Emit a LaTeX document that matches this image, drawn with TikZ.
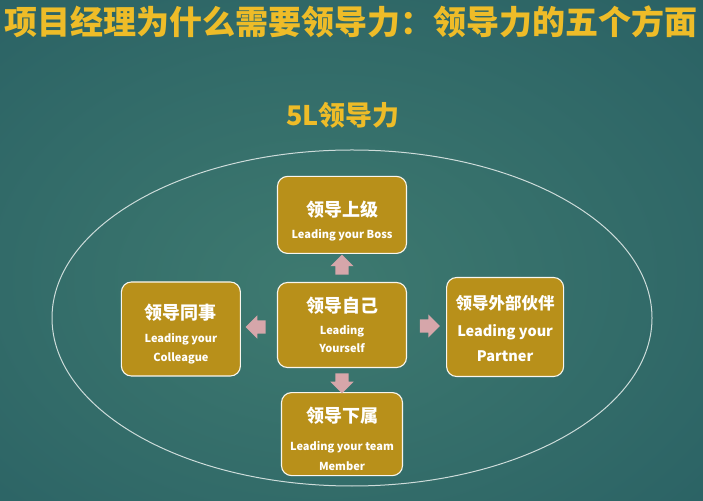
\documentclass[tikz,border=0pt]{standalone}
\usepackage{fontspec}
\setmainfont{Noto Sans CJK SC}
\usepackage{tikz}
\usetikzlibrary{positioning,shapes.arrows,calc}
\definecolor{bgin}  {RGB}{ 62,122,112}
\definecolor{bgmid} {RGB}{ 42, 97,100}
\definecolor{bgout} {RGB}{ 24, 60, 80}
\definecolor{ldgold}{RGB}{184,144, 26}
\definecolor{ldyell}{RGB}{238,188, 40}
\definecolor{ldpink}{RGB}{214,166,170}
\definecolor{ldring}{RGB}{205,220,218}
\pgfdeclareradialshading{bgglow}{\pgfpoint{-3bp}{-4bp}}{%
  color(0bp)=(bgin); color(38bp)=(bgmid); color(74bp)=(bgout)}
\tikzset{
  ldbox/.style={draw=white!92!ldgold,fill=ldgold,rounded corners=10pt,
                line width=1.1pt,text=white,align=center,font=\bfseries,
                minimum width=129pt,minimum height=85pt,inner sep=2pt},
  ldarrow/.style={single arrow,fill=ldpink,draw=none,inner sep=6.5pt,
                  single arrow head extend=5pt,minimum height=17pt},
  ttl/.style={text=ldyell,font=\bfseries\fontsize{33}{33}\selectfont},
}

\begin{document}
\begin{tikzpicture}[x=1pt,y=1pt,node distance=28pt and 36pt]
  % background
  \shade[shading=bgglow] (0,0) rectangle (703,500);
  \useasboundingbox (0,0) rectangle (703,500);

  \node[ttl] (title) at (351,478) {项目经理为什么需要领导力：领导力的五个方面};
  \node[ttl,font=\bfseries\fontsize{27}{27}\selectfont] (sub) at (343,385) {5L领导力};

  \draw[ldring,line width=1pt] (352,182) ellipse [x radius=300, y radius=168];

  \node[ldbox](self) at (342,175)
    {{\fontsize{18}{20}\selectfont 领导自己}\\[10pt]
     {\fontsize{11}{13}\selectfont Leading}\\[6pt]{\fontsize{11}{13}\selectfont Yourself}};
  \node[ldbox,above=28pt of self,minimum height=77pt](boss)
    {\rule{0pt}{28pt}{\fontsize{18}{20}\selectfont 领导上级}\\[10pt]
     {\fontsize{11}{13}\selectfont Leading your Boss}};
  \node[ldbox,left=36pt of self,yshift=-4pt,minimum width=119pt,minimum height=94pt](peer)
    {\rule{0pt}{25pt}{\fontsize{18}{20}\selectfont 领导同事}\\[11pt]
     {\fontsize{11}{13}\selectfont Leading your}\\[7pt]{\fontsize{11}{13}\selectfont Colleague}};
  \node[ldbox,right=39pt of self,yshift=-2pt,minimum width=117pt,minimum height=99pt](partner)
    {\rule{0pt}{18pt}{\fontsize{16.5}{20}\selectfont 领导外部伙伴}\\[12pt]
     {\fontsize{14.5}{16}\selectfont Leading your}\\[10pt]{\fontsize{14.5}{16}\selectfont Partner}};
  \node[ldbox,below=24pt of self,minimum width=121pt,minimum height=83pt](member)
    {\rule{0pt}{25pt}{\fontsize{18}{20}\selectfont 领导下属}\\[16pt]
     {\fontsize{11}{13}\selectfont Leading your team}\\[8pt]{\fontsize{11}{13}\selectfont Member}};

  \node[ldarrow,rotate=90]  (aup)    at ($(self.north)!0.5!(boss.south)$) {};
  \node[ldarrow,rotate=-90] (adown)  at ($(self.south)!0.5!(member.north)$) {};
  \node[ldarrow,rotate=180] (aleft)  at ($(self.west)!0.5!(peer.east)$) {};
  \node[ldarrow]            (aright) at ($(self.east)!0.5!(partner.west)$) {};
\end{tikzpicture}
\end{document}
